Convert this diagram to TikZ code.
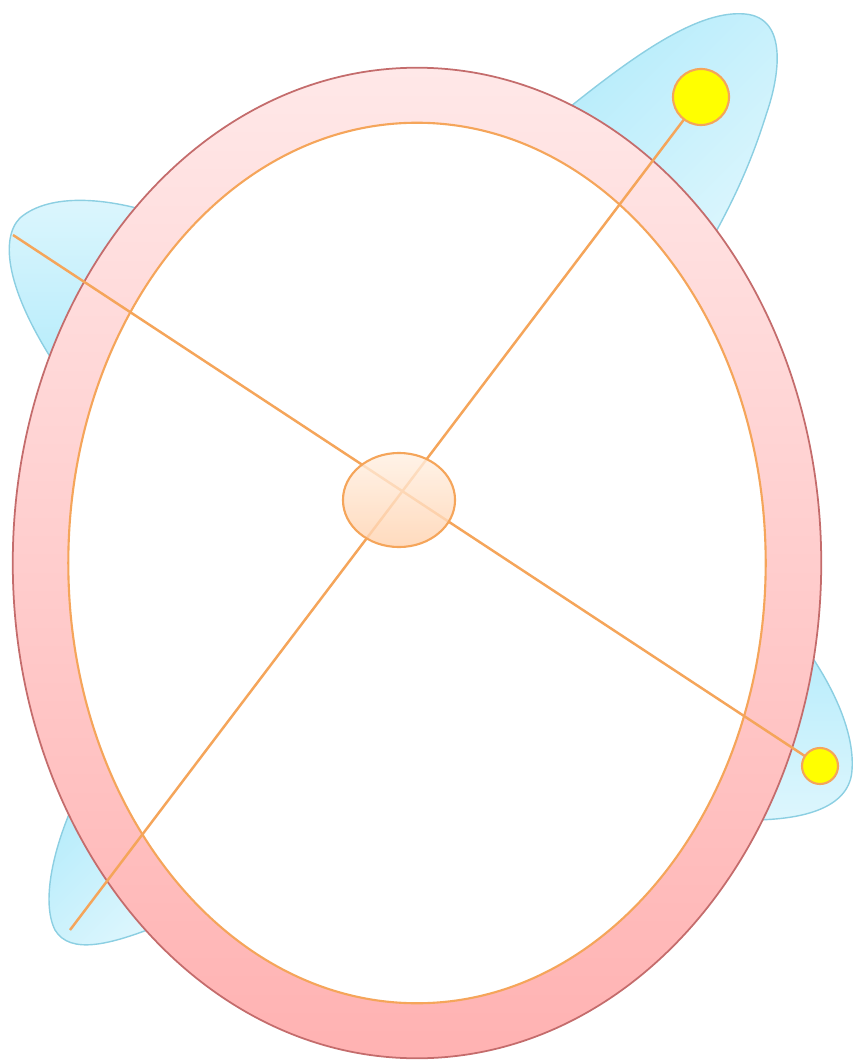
\documentclass[tikz,border=0pt]{standalone}
\usepackage{tikz}
\usetikzlibrary{positioning,shapes.geometric}
\definecolor{rimred}{HTML}{C46C6C}
\definecolor{rimtop}{HTML}{FFE8E8}
\definecolor{rimbottom}{HTML}{FFB2B2}
\definecolor{spokeorange}{HTML}{F5A55A}
\definecolor{hubtop}{HTML}{FFF0E2}
\definecolor{hubbottom}{HTML}{FFD2AE}
\definecolor{petaldark}{HTML}{B6ECFB}
\definecolor{petallight}{HTML}{DDF6FD}
\definecolor{petalline}{HTML}{8CCFE2}
\definecolor{knobyellow}{HTML}{FFFF00}

\tikzset{
  petal/.style={draw=petalline, line width=0.4pt, top color=petaldark, bottom color=petallight},
  rim/.style={ellipse, draw=rimred, line width=0.5pt, top color=rimtop, bottom color=rimbottom,
    minimum width=8.08cm, minimum height=9.9cm, inner sep=0pt, outer sep=0pt},
  face/.style={ellipse, draw=spokeorange, line width=0.6pt, fill=white,
    minimum width=6.97cm, minimum height=8.8cm, inner sep=0pt, outer sep=0pt},
  hub/.style={ellipse, draw=spokeorange, line width=0.6pt, top color=hubtop, bottom color=hubbottom,
    fill opacity=0.8, minimum width=1.12cm, minimum height=0.94cm, inner sep=0pt},
  knob/.style={circle, draw=spokeorange, line width=0.6pt, fill=knobyellow, inner sep=0pt, outer sep=0pt},
  spoke/.style={draw=spokeorange, line width=0.7pt}
}

\begin{document}
\begin{tikzpicture}[x=0.01cm, y=-0.01cm]
\useasboundingbox (0,0) rectangle (855,1061);

% Petals behind the rim
\path[petal, shading angle=45] (560,115) .. controls (640,50) and (700,10) .. (745,14)
  .. controls (790,18) and (778,80) .. (767,112) .. controls (752,160) and (735,200) .. (700,260) -- cycle;
\path[petal, shading angle=180] (160,215) .. controls (110,198) and (50,192) .. (20,218)
  .. controls (0,238) and (5,290) .. (60,372) -- (160,300) -- cycle;
\path[petal, shading angle=45] (80,790) .. controls (55,840) and (40,900) .. (55,930)
  .. controls (70,955) and (110,945) .. (160,925) -- (150,850) -- cycle;
\path[petal, shading angle=0] (800,640) .. controls (830,680) and (855,730) .. (852,770)
  .. controls (850,805) and (810,820) .. (750,820) -- (780,700) -- cycle;

% Rim and face
\node[rim] (rimouter) at (417,563) {};
\node[face] (faceinner) at (417,563) {};

% Knobs and free ends
\node[knob, minimum size=0.56cm] (knobNE) at (701,97) {};
\node[knob, minimum size=0.36cm] (knobE) at (820,766) {};
\coordinate (endW) at (13,235);
\coordinate (endSW) at (70,930);

% Spokes
\draw[spoke] (endW) -- (knobE);
\draw[spoke] (endSW) -- (knobNE);

% Hub
\node[hub] (hubcenter) at (399,500) {};

\end{tikzpicture}
\end{document}
